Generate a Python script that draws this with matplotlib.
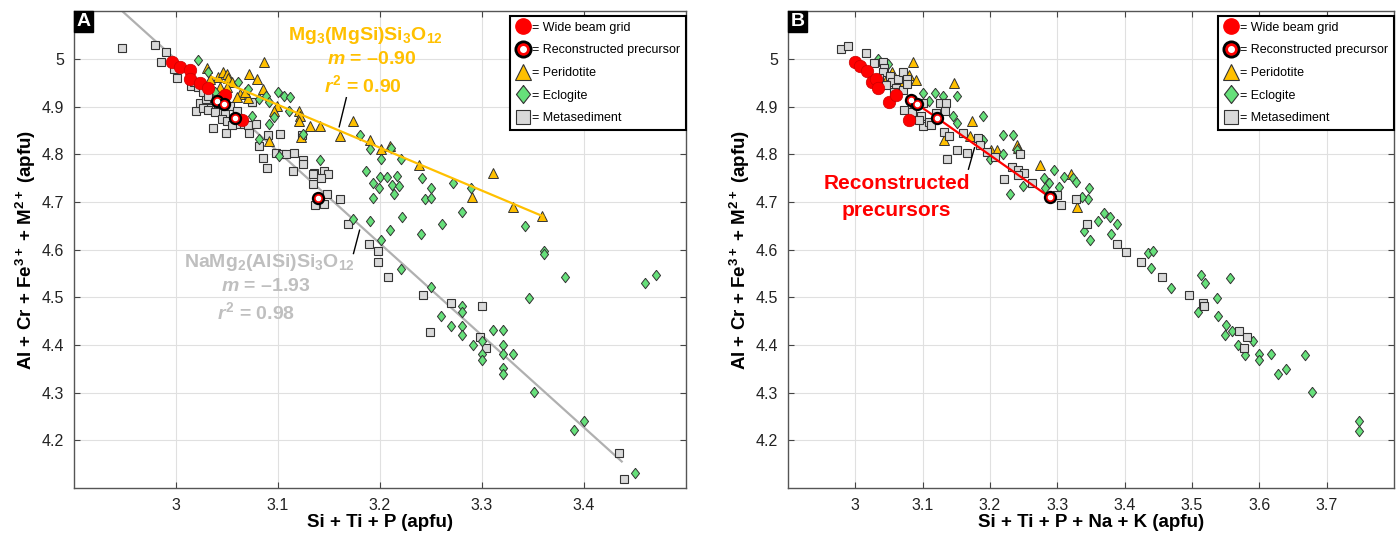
import numpy as np
import matplotlib
matplotlib.use("Agg")
import matplotlib.pyplot as plt
from matplotlib.lines import Line2D
from matplotlib.ticker import FuncFormatter

plt.rcParams['font.family'] = ['Liberation Sans', 'DejaVu Sans']
plt.rcParams['mathtext.fontset'] = 'custom'
plt.rcParams['mathtext.rm'] = 'Liberation Sans:bold'
plt.rcParams['mathtext.it'] = 'Liberation Sans:bold:italic'
plt.rcParams['mathtext.bf'] = 'Liberation Sans:bold'

# ---------------- panel A data (Si + Ti + P) ----------------
a_wide_x = [2.996, 3.004, 3.014, 3.014, 3.024, 3.031, 3.048, 3.065]
a_wide_y = [4.995, 4.984, 4.977, 4.959, 4.950, 4.940, 4.924, 4.873]

a_recon_x = [3.040, 3.047, 3.058, 3.139]
a_recon_y = [4.913, 4.906, 4.876, 4.709]

a_perid_x = [3.086, 3.030, 3.041, 3.046, 3.050, 3.051, 3.055, 3.072, 3.079, 3.085,
             3.063, 3.071, 3.043, 3.033, 3.050, 3.099, 3.096, 3.121, 3.122, 3.121,
             3.131, 3.141, 3.091, 3.174, 3.161, 3.190, 3.201, 3.210, 3.238, 3.311,
             3.290, 3.330, 3.359, 3.123, 3.060, 3.068]
a_perid_y = [4.995, 4.981, 4.962, 4.972, 4.969, 4.960, 4.951, 4.969, 4.958, 4.937,
             4.927, 4.918, 4.941, 4.958, 4.941, 4.901, 4.892, 4.892, 4.881, 4.871,
             4.860, 4.860, 4.829, 4.870, 4.838, 4.831, 4.811, 4.817, 4.777, 4.761,
             4.711, 4.690, 4.670, 4.836, 4.920, 4.930]

a_eclog_x = [3.022, 3.031, 3.061, 3.071, 3.081, 3.088, 3.091, 3.100, 3.106, 3.112,
             3.111, 3.096, 3.091, 3.081, 3.101, 3.125, 3.141, 3.075, 3.038, 3.180,
             3.190, 3.201, 3.211, 3.221, 3.186, 3.193, 3.200, 3.207, 3.217, 3.199,
             3.212, 3.219, 3.193, 3.214, 3.241, 3.250, 3.244, 3.250, 3.272, 3.289,
             3.342, 3.361, 3.361, 3.381, 3.460, 3.471, 3.346, 3.174, 3.190, 3.222,
             3.201, 3.210, 3.240, 3.261, 3.280, 3.221, 3.250, 3.260, 3.270, 3.280,
             3.280, 3.280, 3.280, 3.291, 3.300, 3.300, 3.300, 3.311, 3.321, 3.321,
             3.321, 3.321, 3.321, 3.330, 3.351, 3.390, 3.400, 3.450]
a_eclog_y = [4.998, 4.972, 4.952, 4.937, 4.916, 4.923, 4.909, 4.930, 4.923, 4.921,
             4.891, 4.879, 4.863, 4.832, 4.797, 4.843, 4.789, 4.881, 4.930, 4.841,
             4.812, 4.790, 4.814, 4.790, 4.765, 4.739, 4.753, 4.753, 4.755, 4.730,
             4.735, 4.733, 4.708, 4.716, 4.750, 4.730, 4.707, 4.709, 4.741, 4.730,
             4.650, 4.597, 4.592, 4.542, 4.531, 4.548, 4.498, 4.664, 4.661, 4.668,
             4.620, 4.641, 4.634, 4.654, 4.680, 4.560, 4.521, 4.460, 4.440, 4.481,
             4.469, 4.440, 4.420, 4.401, 4.408, 4.381, 4.369, 4.431, 4.431, 4.401,
             4.381, 4.351, 4.339, 4.381, 4.302, 4.221, 4.241, 4.131]

a_meta_x = [2.947, 2.979, 2.990, 2.985, 2.998, 3.001, 3.015, 3.020, 3.024, 3.029,
            3.033, 3.036, 3.041, 3.045, 3.048, 3.049, 3.053, 3.060, 3.062, 3.067,
            3.071, 3.072, 3.075, 3.078, 3.081, 3.085, 3.090, 3.089, 3.102, 3.098,
            3.104, 3.108, 3.116, 3.115, 3.124, 3.125, 3.125, 3.135, 3.145, 3.149,
            3.018, 3.022, 3.026, 3.031, 3.026, 3.031, 3.038, 3.045, 3.050, 3.055,
            3.061, 3.134, 3.136, 3.142, 3.134, 3.145, 3.148, 3.161, 3.169, 3.189,
            3.198, 3.198, 3.208, 3.242, 3.249, 3.270, 3.300, 3.298, 3.304, 3.434,
            3.439]
a_meta_y = [5.023, 5.030, 5.014, 4.993, 4.979, 4.961, 4.944, 4.891, 4.907, 4.916,
            4.898, 4.855, 4.902, 4.888, 4.884, 4.844, 4.902, 4.891, 4.863, 4.863,
            4.861, 4.846, 4.909, 4.863, 4.818, 4.793, 4.841, 4.772, 4.842, 4.804,
            4.801, 4.800, 4.804, 4.766, 4.841, 4.789, 4.779, 4.760, 4.765, 4.758,
            4.951, 4.942, 4.930, 4.923, 4.898, 4.893, 4.888, 4.874, 4.870, 4.862,
            4.877, 4.738, 4.693, 4.750, 4.759, 4.696, 4.716, 4.707, 4.655, 4.612,
            4.597, 4.575, 4.543, 4.504, 4.428, 4.488, 4.482, 4.417, 4.394, 4.174,
            4.119]

# regression lines (slope, intercept, x range)
perid_m, perid_b, perid_xr = -0.90, 7.694, [3.035, 3.360]
meta_m, meta_b, meta_xr = -1.93, 10.789, [2.940, 3.437]

# ---------------- panel B data (Si + Ti + P + Na + K) ----------------
b_wide_x = [2.999, 3.007, 3.017, 3.025, 3.031, 3.033, 3.050, 3.061, 3.079]
b_wide_y = [4.994, 4.986, 4.975, 4.951, 4.959, 4.940, 4.910, 4.924, 4.873]

b_recon_x = [3.083, 3.092, 3.122, 3.289]
b_recon_y = [4.914, 4.905, 4.876, 4.710]

b_perid_x = [3.085, 3.080, 3.090, 3.054, 3.048, 3.146, 3.174, 3.171, 3.132, 3.202,
             3.210, 3.240, 3.241, 3.274, 3.321, 3.329, 3.070, 3.060]
b_perid_y = [4.993, 4.966, 4.957, 4.973, 4.965, 4.949, 4.871, 4.838, 4.830, 4.809,
             4.809, 4.820, 4.814, 4.777, 4.758, 4.690, 4.945, 4.935]

b_eclog_x = [3.033, 3.048, 3.100, 3.118, 3.130, 3.151, 3.110, 3.145, 3.151, 3.190,
             3.190, 3.220, 3.234, 3.240, 3.220, 3.200, 3.280, 3.295, 3.288, 3.303,
             3.282, 3.310, 3.324, 3.328, 3.347, 3.346, 3.336, 3.249, 3.229, 3.370,
             3.361, 3.378, 3.388, 3.380, 3.339, 3.349, 3.434, 3.442, 3.439, 3.469,
             3.514, 3.519, 3.557, 3.509, 3.537, 3.539, 3.550, 3.549, 3.560, 3.568,
             3.579, 3.590, 3.599, 3.599, 3.618, 3.668, 3.628, 3.639, 3.679, 3.748,
             3.748]
b_eclog_y = [5.000, 4.989, 4.929, 4.929, 4.922, 4.922, 4.912, 4.880, 4.866, 4.881,
             4.831, 4.840, 4.840, 4.809, 4.800, 4.791, 4.751, 4.767, 4.739, 4.732,
             4.730, 4.753, 4.751, 4.742, 4.730, 4.707, 4.710, 4.733, 4.716, 4.677,
             4.661, 4.668, 4.654, 4.633, 4.640, 4.620, 4.594, 4.597, 4.561, 4.519,
             4.548, 4.530, 4.541, 4.470, 4.499, 4.460, 4.441, 4.420, 4.429, 4.400,
             4.379, 4.408, 4.382, 4.368, 4.381, 4.380, 4.340, 4.350, 4.301, 4.241,
             4.220]

b_meta_x = [2.978, 2.989, 3.016, 3.028, 3.041, 3.043, 3.041, 3.051, 3.054, 3.064,
            3.071, 3.077, 3.061, 3.071, 3.077, 3.072, 3.087, 3.100, 3.098, 3.100,
            3.110, 3.120, 3.126, 3.135, 3.133, 3.132, 3.139, 3.136, 3.151, 3.160,
            3.166, 3.182, 3.185, 3.195, 3.208, 3.221, 3.233, 3.242, 3.244, 3.251,
            3.241, 3.262, 3.300, 3.306, 3.328, 3.344, 3.388, 3.402, 3.424, 3.455,
            3.495, 3.516, 3.518, 3.570, 3.582, 3.578, 3.035, 3.046, 3.058, 3.084,
            3.094, 3.113]
b_meta_y = [5.021, 5.028, 5.013, 4.991, 4.993, 4.982, 4.972, 4.965, 4.951, 4.958,
            4.974, 4.958, 4.940, 4.936, 4.947, 4.894, 4.908, 4.908, 4.880, 4.860,
            4.869, 4.887, 4.908, 4.908, 4.891, 4.848, 4.839, 4.790, 4.809, 4.846,
            4.802, 4.835, 4.820, 4.806, 4.795, 4.749, 4.774, 4.767, 4.801, 4.760,
            4.756, 4.739, 4.714, 4.693, 4.707, 4.655, 4.612, 4.596, 4.575, 4.543,
            4.504, 4.489, 4.481, 4.429, 4.416, 4.394, 4.960, 4.945, 4.930, 4.890,
            4.872, 4.862]

xticks_a = [3, 3.1, 3.2, 3.3, 3.4]
xticks_b = [3, 3.1, 3.2, 3.3, 3.4, 3.5, 3.6, 3.7]
yticks = [4.2, 4.3, 4.4, 4.5, 4.6, 4.7, 4.8, 4.9, 5.0]

# styles
RED = '#ff0000'
GOLD = '#ffc000'
GREEN = '#66e07a'
GREYF = '#d9d9d9'
EDGE = '#333333'
# wider diamond than matplotlib's 'd'
DIAMOND = [(0, 1), (0.78, 0), (0, -1), (-0.78, 0), (0, 1)]

fig = plt.figure(figsize=(13.96, 5.36), dpi=100)
axA = fig.add_axes([0.053, 0.0896, 0.4384, 0.889])
axB = fig.add_axes([0.5645, 0.0896, 0.434, 0.889])


def style_axis(ax, xlim, xticks, xlabel, letter):
    ax.set_xlim(*xlim)
    ax.set_ylim(4.1, 5.1)
    ax.set_xticks(xticks)
    ax.set_yticks(yticks)
    fmt = FuncFormatter(lambda v, p: f'{v:g}')
    ax.xaxis.set_major_formatter(fmt)
    ax.yaxis.set_major_formatter(fmt)
    ax.grid(True, color='#e0e0e0', lw=0.8, zorder=0)
    ax.set_axisbelow(True)
    ax.tick_params(direction='in', top=True, right=True, length=4,
                   labelsize=11.5, colors='#444444', labelcolor='#222222', pad=7)
    for s in ax.spines.values():
        s.set_color('#555555')
        s.set_linewidth(1.0)
    ax.set_xlabel(xlabel, fontsize=13.5, fontweight='bold', labelpad=1)
    ax.set_ylabel(r'Al + Cr + Fe$^{3+}$ + M$^{2+}$ (apfu)', fontsize=13.5,
                  fontweight='bold', labelpad=3)
    ax.text(0.004, 0.997, letter, transform=ax.transAxes, ha='left', va='top',
            color='white', fontsize=14, fontweight='bold',
            bbox=dict(facecolor='black', edgecolor='black', pad=1.5))


def draw_legend(ax):
    h_wide = Line2D([], [], ls='none', marker='o', ms=11, mfc=RED, mec=RED)
    h_rec1 = Line2D([], [], ls='none', marker='o', ms=11, mfc=RED, mec='black', mew=2)
    h_rec2 = Line2D([], [], ls='none', marker='o', ms=4, mfc='white', mec='white')
    h_per = Line2D([], [], ls='none', marker='^', ms=12, mfc=GOLD, mec=EDGE, mew=0.8)
    h_ecl = Line2D([], [], ls='none', marker=DIAMOND, ms=13, mfc=GREEN, mec=EDGE, mew=0.8)
    h_met = Line2D([], [], ls='none', marker='s', ms=10, mfc=GREYF, mec=EDGE, mew=0.8)
    leg = ax.legend([h_wide, (h_rec1, h_rec2), h_per, h_ecl, h_met],
                    ['= Wide beam grid', '= Reconstructed precursor', '= Peridotite',
                     '= Eclogite', '= Metasediment'],
                    loc='upper right', bbox_to_anchor=(1.0, 0.99), borderaxespad=0,
                    fontsize=9, labelspacing=0.85, handlelength=1.1,
                    handletextpad=0.2, borderpad=0.45, fancybox=False,
                    framealpha=1, edgecolor='black')
    leg.get_frame().set_linewidth(1.5)
    leg.set_zorder(20)


def scatter_sets(ax, order, wide, recon):
    for kind, xs, ys in order:
        if kind == 'meta':
            ax.plot(xs, ys, ls='none', marker='s', ms=5.5, mfc=GREYF, mec=EDGE,
                    mew=0.8, zorder=3)
        elif kind == 'perid':
            ax.plot(xs, ys, ls='none', marker='^', ms=7, mfc=GOLD, mec=EDGE,
                    mew=0.7, zorder=3)
        elif kind == 'eclog':
            ax.plot(xs, ys, ls='none', marker=DIAMOND, ms=7.5, mfc=GREEN, mec=EDGE,
                    mew=0.7, zorder=3)
    ax.plot(wide[0], wide[1], ls='none', marker='o', ms=9, mfc=RED, mec='#cc0000',
            mew=0.5, zorder=5)
    ax.plot(recon[0], recon[1], ls='none', marker='o', ms=8, mfc=RED, mec='black',
            mew=1.6, zorder=7)
    ax.plot(recon[0], recon[1], ls='none', marker='o', ms=3, mfc='white',
            mec='white', zorder=8)


# ---------------- panel A ----------------
xr = np.array(meta_xr)
axA.plot(xr, meta_m * xr + meta_b, color='#b0b0b0', lw=1.6, zorder=2)
xr = np.array(perid_xr)
axA.plot(xr, perid_m * xr + perid_b, color=GOLD, lw=1.6, zorder=4)
scatter_sets(axA, [('meta', a_meta_x, a_meta_y), ('perid', a_perid_x, a_perid_y),
                   ('eclog', a_eclog_x, a_eclog_y)],
             (a_wide_x, a_wide_y), (a_recon_x, a_recon_y))
style_axis(axA, (2.9, 3.5), xticks_a, 'Si + Ti + P (apfu)', 'A')
draw_legend(axA)

axA.text(3.186, 5.050, r'$\mathrm{Mg_3(MgSi)Si_3O_{12}}$', color=GOLD, fontsize=14,
         ha='center', va='center')
axA.text(3.192, 4.999, r'$m$ = –0.90', color=GOLD, fontsize=14, fontweight='bold',
         ha='center', va='center')
axA.text(3.183, 4.945, r'$r^2$ = 0.90', color=GOLD, fontsize=14, fontweight='bold',
         ha='center', va='center')
axA.plot([3.167, 3.160], [4.919, 4.858], color='black', lw=1, zorder=6)

GREYT = '#bfbfbf'
axA.text(3.092, 4.573, r'$\mathrm{NaMg_2(AlSi)Si_3O_{12}}$', color=GREYT, fontsize=14,
         ha='center', va='center')
axA.text(3.088, 4.522, r'$m$ = –1.93', color=GREYT, fontsize=14, fontweight='bold',
         ha='center', va='center')
axA.text(3.079, 4.469, r'$r^2$ = 0.98', color=GREYT, fontsize=14, fontweight='bold',
         ha='center', va='center')
axA.plot([3.180, 3.174], [4.641, 4.592], color='black', lw=1, zorder=6)

# ---------------- panel B ----------------
scatter_sets(axB, [('perid', b_perid_x, b_perid_y), ('eclog', b_eclog_x, b_eclog_y),
                   ('meta', b_meta_x, b_meta_y)],
             (b_wide_x, b_wide_y), (b_recon_x, b_recon_y))
axB.plot(b_recon_x, b_recon_y, color=RED, lw=1.6, zorder=6)
style_axis(axB, (2.9, 3.8), xticks_b, 'Si + Ti + P + Na + K (apfu)', 'B')
draw_legend(axB)

axB.text(3.061, 4.739, 'Reconstructed', color=RED, fontsize=15, fontweight='bold',
         ha='center', va='center')
axB.text(3.061, 4.682, 'precursors', color=RED, fontsize=15, fontweight='bold',
         ha='center', va='center')
axB.plot([3.177, 3.168], [4.814, 4.769], color='black', lw=1, zorder=6)

fig.savefig('out.png', dpi=100)
